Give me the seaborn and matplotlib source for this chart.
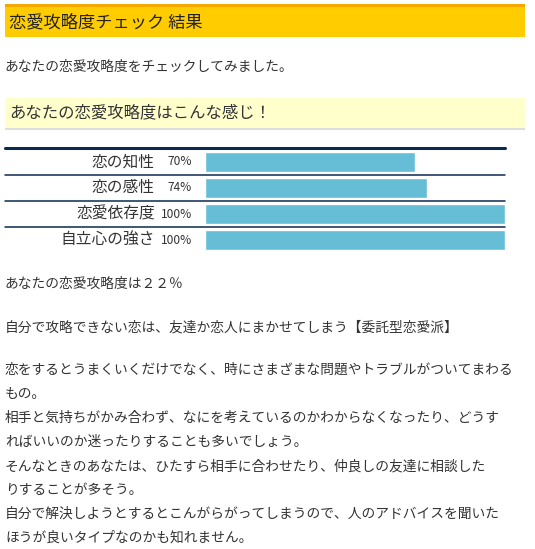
import matplotlib
matplotlib.use("Agg")
import matplotlib.pyplot as plt
from matplotlib.patches import Rectangle
import seaborn as sns
import pandas as pd

# data
items = ["恋の知性", "恋の感性", "恋愛依存度", "自立心の強さ"]
scores = [70, 74, 100, 100]

title = "恋愛攻略度チェック 結果"
intro = "あなたの恋愛攻略度をチェックしてみました。"
subhead = "あなたの恋愛攻略度はこんな感じ！"
result = "あなたの恋愛攻略度は２２％"
result_type = "自分で攻略できない恋は、友達か恋人にまかせてしまう【委託型恋愛派】"
body_lines = [
    "恋をするとうまくいくだけでなく、時にさまざまな問題やトラブルがついてまわる",
    "もの。",
    "相手と気持ちがかみ合わず、なにを考えているのかわからなくなったり、どうす",
    "ればいいのか迷ったりすることも多いでしょう。",
    "そんなときのあなたは、ひたすら相手に合わせたり、仲良しの友達に相談した",
    "りすることが多そう。",
    "自分で解決しようとするとこんがらがってしまうので、人のアドバイスを聞いた",
    "ほうが良いタイプなのかも知れません。",
]

sns.set_theme(style="white")
plt.rcParams["font.family"] = ["Noto Sans CJK JP", "DejaVu Sans"]

W, H = 535, 549
fig = plt.figure(figsize=(W / 100, H / 100), dpi=100)
fig.patch.set_facecolor("white")

def fx(x):
    return x / W

def fy(y):
    return 1 - y / H

def box(x0, y0, x1, y1, color):
    fig.patches.append(Rectangle((fx(x0), fy(y1)), fx(x1) - fx(x0), fy(y0) - fy(y1),
                                 transform=fig.transFigure, facecolor=color,
                                 edgecolor="none", zorder=0))

txt = "#333333"

# header bar
box(5, 4, 525, 7, "#F7A800")
box(5, 7, 525, 37, "#FFCC00")
fig.text(fx(9), fy(22), title, fontsize=12.4, color="#222222", va="center", ha="left")

fig.text(fx(5), fy(67), intro, fontsize=9.9, color=txt, va="center", ha="left")

# sub heading box
box(5, 98, 525, 128, "#FFFFCC")
box(5, 128, 525, 129.5, "#DDDDDD")
fig.text(fx(9), fy(113), subhead, fontsize=11.8, color=txt, va="center", ha="left")

# bar chart
df = pd.DataFrame({"item": items, "score": scores})
ax = fig.add_axes([fx(205), fy(253), fx(505) - fx(205), (253 - 149) / H])
sns.barplot(data=df, x="score", y="item", color="#66BED6", saturation=1,
            width=0.77, ax=ax)
ax.set_xlim(0, 100)
ax.set_ylim(len(items) - 0.5, -0.5)
ax.set_axis_off()

ytr = ax.get_yaxis_transform()
for i, (name, val) in enumerate(zip(items, scores)):
    ax.text(-0.167, i, name, transform=ytr, ha="right", va="center",
            fontsize=11.3, color=txt)
    ax.text(-0.043, i, f"{val}%", transform=ytr, ha="right", va="center",
            fontsize=8.6, color=txt)

ax.axhline(-0.52, xmin=-2 / 3, xmax=1, color="#0A2A4F", lw=2.2, clip_on=False)
for b in [0.5, 1.5, 2.5]:
    ax.axhline(b, xmin=-2 / 3, xmax=1, color="#0A2A4F", lw=1.1, clip_on=False)

# result texts
fig.text(fx(5), fy(284), result, fontsize=9.9, color=txt, va="center", ha="left")
fig.text(fx(5), fy(327), result_type, fontsize=9.9, color=txt, va="center", ha="left")
for k, line in enumerate(body_lines):
    fig.text(fx(5), fy(370 + 24 * k), line, fontsize=9.9, color=txt,
             va="center", ha="left")

fig.savefig("out.png", dpi=100)
